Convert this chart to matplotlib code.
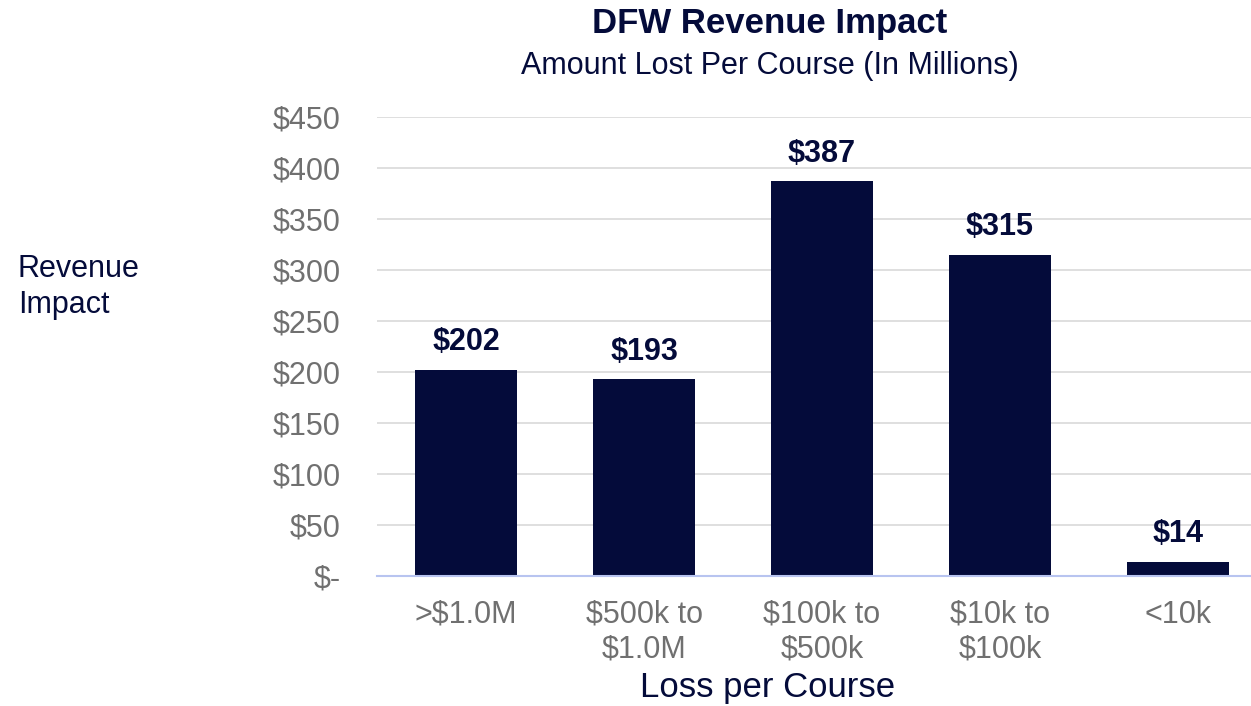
import numpy as np
import matplotlib
matplotlib.use("Agg")
import matplotlib.pyplot as plt

# data
categories = [">$1.0M", "$500k to\n$1.0M", "$100k to\n$500k", "$10k to\n$100k", "<10k"]
revenue = [202, 193, 387, 315, 14]
yticks = [0, 50, 100, 150, 200, 250, 300, 350, 400, 450]
ytick_labels = ["$-", "$50", "$100", "$150", "$200", "$250", "$300", "$350", "$400", "$450"]

NAVY = "#040b3a"
GRAY = "#707070"

plt.rcParams["font.family"] = ["Liberation Sans", "DejaVu Sans"]

fig = plt.figure(figsize=(12.51, 7.06), dpi=100)
ax = fig.add_axes([377 / 1251, 130 / 706, 890 / 1251, 459 / 706])

x = np.arange(len(categories))
ax.bar(x, revenue, width=0.575, color=NAVY, zorder=3)

for xi, v in zip(x, revenue):
    ax.annotate(f"${v}", (xi, v), xytext=(0, 9), textcoords="offset points",
                ha="center", va="bottom", fontsize=22, fontweight="bold", color=NAVY)

ax.set_xlim(-0.5, 4.5)
ax.set_ylim(0, 450)
ax.set_yticks(yticks)
ax.set_yticklabels(ytick_labels, fontsize=22, color=GRAY)
ax.set_xticks(x)
ax.set_xticklabels(categories, fontsize=22, color=GRAY, linespacing=1.2)
ax.tick_params(axis="y", length=0, pad=26)
ax.tick_params(axis="x", length=0, pad=17)

ax.grid(axis="y", color="#d9d9d9", linewidth=1.2, zorder=0)
for s in ["top", "right", "left"]:
    ax.spines[s].set_visible(False)
ax.spines["bottom"].set_color("#b8c4f0")
ax.spines["bottom"].set_linewidth(1.5)
ax.spines["bottom"].set_zorder(4)

fig.text(770 / 1251, 1 - 23 / 706, "DFW Revenue Impact", ha="center", va="center",
         fontsize=25, fontweight="bold", color=NAVY)
fig.text(770 / 1251, 1 - 66 / 706, "Amount Lost Per Course (In Millions)", ha="center",
         va="center", fontsize=22, color=NAVY)
fig.text(18 / 1251, 1 - 287 / 706, "Revenue\nImpact", ha="left", va="center",
         fontsize=22, color=NAVY, linespacing=1.25)
fig.text(768 / 1251, 1 - 688 / 706, "Loss per Course", ha="center", va="center",
         fontsize=25, color=NAVY)

fig.savefig("out.png", dpi=100)
